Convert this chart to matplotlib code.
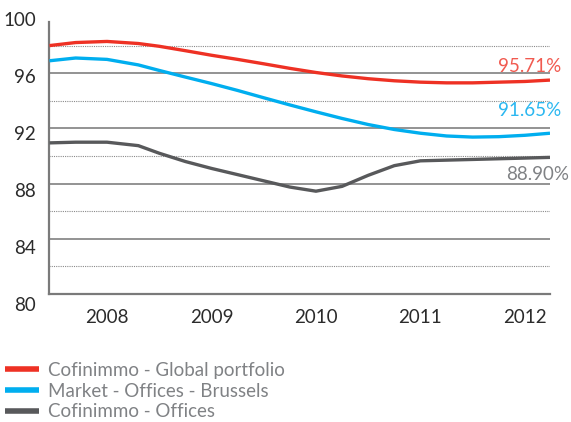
import matplotlib
matplotlib.use("Agg")
import matplotlib.pyplot as plt
import matplotlib.transforms as mtransforms

plt.rcParams['font.family'] = ['Lato', 'DejaVu Sans']

# values
years = [2007.45, 2007.7, 2008.0, 2008.3, 2008.5, 2008.75, 2009.0, 2009.25, 2009.5, 2009.75,
         2010.0, 2010.25, 2010.5, 2010.75, 2011.0, 2011.25, 2011.5, 2011.75, 2012.0, 2012.24]
global_portfolio = [98.0, 98.22, 98.3, 98.15, 97.95, 97.63, 97.3, 97.0, 96.68, 96.35,
                    96.05, 95.8, 95.6, 95.45, 95.35, 95.3, 95.3, 95.35, 95.4, 95.5]
market_brussels = [96.9, 97.1, 97.0, 96.6, 96.2, 95.72, 95.25, 94.75, 94.22, 93.7,
                   93.2, 92.72, 92.28, 91.92, 91.65, 91.45, 91.37, 91.4, 91.5, 91.65]
cofinimmo_offices = [90.95, 91.0, 91.0, 90.75, 90.2, 89.6, 89.1, 88.65, 88.2, 87.75,
                     87.45, 87.8, 88.6, 89.3, 89.65, 89.7, 89.75, 89.8, 89.85, 89.9]

series_names = ["Cofinimmo - Global portfolio", "Market - Offices - Brussels", "Cofinimmo - Offices"]
end_labels = ["95.71%", "91.65%", "88.90%"]
line_colors = ["#ee3124", "#00aeef", "#58595b"]
label_colors = ["#f15a50", "#2bb7f0", "#808285"]

year_ticks = [2008, 2009, 2010, 2011, 2012]
y_ticks = [80, 84, 88, 92, 96, 100]

fig = plt.figure(figsize=(5.71, 4.22), dpi=100)
ax = fig.add_axes([0.0858, 0.3033, 0.8774, 0.6446])

# grid: solid every 4, dotted in between
for v in [84, 88, 92, 96]:
    ax.axhline(v, color="#8a8a8a", lw=1.3, zorder=1)
for v in [82, 86, 90, 94, 98]:
    ax.axhline(v, color="#8a8a8a", lw=0.8, ls=(0, (1, 1)), zorder=1)

lines = []
for vals, c in zip([global_portfolio, market_brussels, cofinimmo_offices], line_colors):
    ln, = ax.plot(years, vals, color=c, lw=2.4, solid_capstyle="butt", solid_joinstyle="round", zorder=3)
    lines.append(ln)

ax.set_xlim(2007.445, 2012.24)
ax.set_ylim(80, 99.71)

for s in ["top", "right"]:
    ax.spines[s].set_visible(False)
for s in ["left", "bottom"]:
    ax.spines[s].set_color("#7a7a7a")
    ax.spines[s].set_linewidth(1.6)

ax.set_xticks(year_ticks)
ax.set_xticklabels([str(y) for y in year_ticks])
ax.tick_params(axis="x", length=0, pad=11, labelsize=13.5, labelcolor="#2b2b2b")
ax.set_yticks([])

# y labels sit a little below their gridlines, more so lower down
for v in y_ticks:
    off = mtransforms.ScaledTranslation(-13 / 100, -(3 + (100 - v) / 4 * 1.6) / 100, fig.dpi_scale_trans)
    ax.text(0, v, str(v), transform=mtransforms.blended_transform_factory(ax.transAxes, ax.transData) + off,
            ha="right", va="center", fontsize=13.5, color="#2b2b2b")

# end-of-line value labels
label_x = [1.022, 1.022, 1.038]
label_y = [96.5, 93.3, 88.65]
for txt, xv, yv, c in zip(end_labels, label_x, label_y, label_colors):
    ax.text(xv, yv, txt, transform=mtransforms.blended_transform_factory(ax.transAxes, ax.transData),
            ha="right", va="center", fontsize=13.5, color=c, clip_on=False)

leg = fig.legend(lines, series_names, loc="upper left", bbox_to_anchor=(-0.005, 0.16),
                 frameon=False, fontsize=13.5, handlelength=1.85, handletextpad=0.45,
                 labelspacing=0.2, borderaxespad=0)
for t in leg.get_texts():
    t.set_color("#808285")
for h in leg.legend_handles:
    h.set_linewidth(4)

fig.savefig("out.png", dpi=100)
